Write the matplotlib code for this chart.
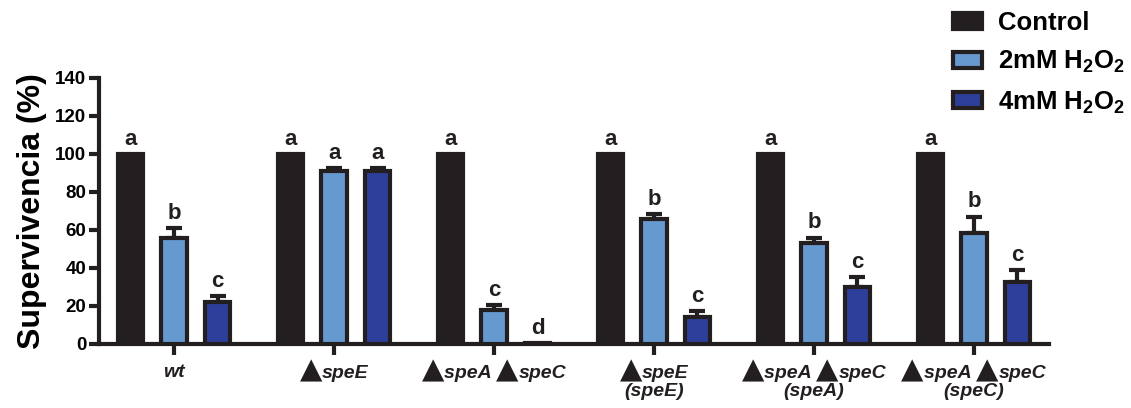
import numpy as np
import matplotlib.pyplot as plt
from matplotlib.patches import Patch
from matplotlib.offsetbox import TextArea, HPacker, VPacker, AnnotationBbox

plt.rcParams['font.family'] = ['Liberation Sans', 'DejaVu Sans']
plt.rcParams['font.weight'] = 'bold'
plt.rcParams['mathtext.fontset'] = 'custom'
plt.rcParams['mathtext.rm'] = 'Liberation Sans:bold'
plt.rcParams['mathtext.bf'] = 'Liberation Sans:bold'
plt.rcParams['mathtext.it'] = 'Liberation Sans:bold:italic'
plt.rcParams['mathtext.default'] = 'bf'

# each strain label: lines of segments, '▲' drawn as a larger glyph
strains = [
    [['wt']],
    [['▲', 'speE']],
    [['▲', 'speA ', '▲', 'speC']],
    [['▲', 'speE'], ['(speE)']],
    [['▲', 'speA ', '▲', 'speC'], ['(speA)']],
    [['▲', 'speA ', '▲', 'speC'], ['(speC)']],
]
series = ['Control', '2mM H$_2$O$_2$', '4mM H$_2$O$_2$']

control = [100, 100, 100, 100, 100, 100]
control_err = [0, 0, 0, 0, 0, 0]
mM2 = [56, 91, 18, 65.5, 53, 58.5]
mM2_err = [5, 1.5, 2.5, 3, 3, 8.5]
mM4 = [22, 91, 0.5, 14, 30, 32.5]
mM4_err = [3, 1.5, 0, 3.5, 5, 6.5]

letters_control = ['a', 'a', 'a', 'a', 'a', 'a']
letters_2 = ['b', 'a', 'c', 'b', 'b', 'b']
letters_4 = ['c', 'a', 'd', 'c', 'c', 'c']

colors = ['#231f20', '#6699d0', '#2e3f9b']
edge = '#231f20'

fig = plt.figure(figsize=(11.31, 4.08), dpi=100)
ax = fig.add_axes([0.0875, 0.157, 0.84, 0.652])

x = np.arange(len(strains))
offsets = [-0.272, 0, 0.272]
width = 0.16

data = [(control, control_err, letters_control),
        (mM2, mM2_err, letters_2),
        (mM4, mM4_err, letters_4)]

for k, (vals, errs, lets) in enumerate(data):
    pos = x + offsets[k]
    ax.bar(pos, vals, width, color=colors[k], edgecolor=edge, linewidth=3, zorder=3)
    for p, v, e, t in zip(pos, vals, errs, lets):
        if e > 0:
            ax.errorbar(p, v, yerr=[[0], [e]], fmt='none', ecolor=edge,
                        elinewidth=3, capsize=6, capthick=3, zorder=2)
        ax.text(p, v + e + 2.2, t, ha='center', va='bottom',
                fontsize=16, fontweight='bold', color=edge)

ax.set_xlim(-0.47, 5.47)
ax.set_ylim(0, 140)
ax.set_yticks(np.arange(0, 141, 20))
ax.set_xticks(x)
ax.set_xticklabels([''] * len(x))


def strain_label(lines):
    rows = []
    for line in lines:
        parts = []
        for seg in line:
            if seg == '▲':
                props = dict(fontsize=21, family='DejaVu Sans', color=edge)
            else:
                props = dict(fontsize=14, fontweight='bold', fontstyle='italic',
                             color=edge)
            parts.append(TextArea(seg, textprops=props))
        rows.append(HPacker(children=parts, align='baseline', pad=0, sep=0))
    return VPacker(children=rows, align='center', pad=0, sep=-1)


for xi, lines in zip(x, strains):
    # lines starting without the big triangle sit lower to share its baseline
    dy = -9 if '▲' in lines[0] else -14.5
    ab = AnnotationBbox(strain_label(lines), (xi, 0),
                        xycoords=('data', 'axes fraction'),
                        xybox=(0, dy), boxcoords='offset points',
                        box_alignment=(0.5, 1), frameon=False, pad=0,
                        annotation_clip=False)
    ax.add_artist(ab)

for s in ['top', 'right']:
    ax.spines[s].set_visible(False)
for s in ['left', 'bottom']:
    ax.spines[s].set_linewidth(3)
    ax.spines[s].set_color(edge)
ax.tick_params(axis='y', length=7, width=3, color=edge, labelsize=13.5, pad=2)
ax.tick_params(axis='x', length=8, width=3, color=edge, pad=5)
ax.set_ylabel('Supervivencia (%)', fontsize=23, fontweight='bold', labelpad=6)

handles = [Patch(facecolor=c, edgecolor=edge, linewidth=3) for c in colors]
fig.legend(handles, series, loc='upper left', bbox_to_anchor=(0.822, 1.03),
           frameon=False, fontsize=18.5, handlelength=1.15, handleheight=0.6,
           labelspacing=0.55, handletextpad=0.6)

fig.savefig('out.png', dpi=100)
